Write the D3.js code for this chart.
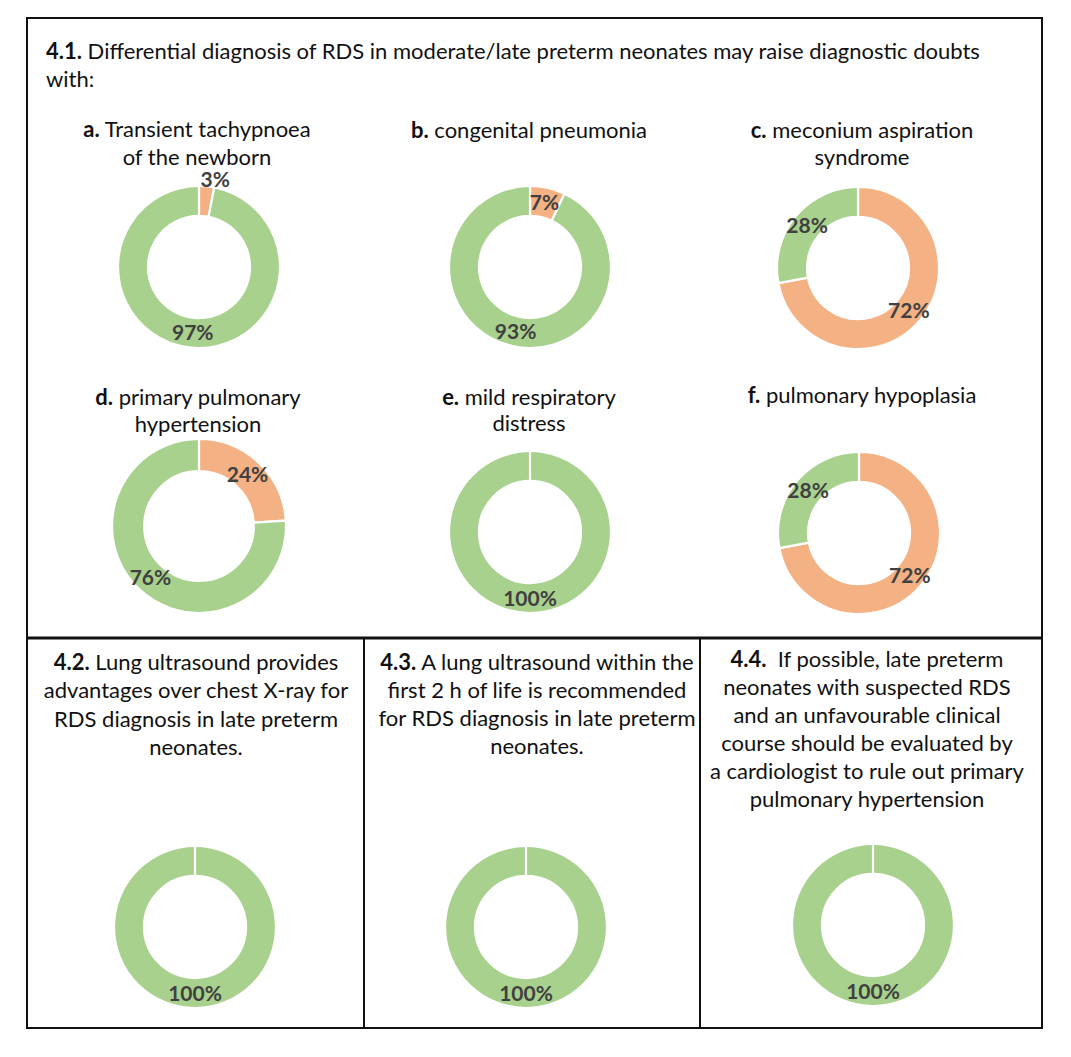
<!DOCTYPE html>
<html>
<head>
<meta charset="utf-8">
<script src="https://cdn.jsdelivr.net/npm/d3@7"></script>
<style>
  body { margin: 0; background: #fff; }
  text { font-family: Lato, "Open Sans", sans-serif; }
</style>
</head>
<body>
<div id="chart"></div>
<script>
// survey answers per statement, % of respondents
var panelKeys = ["a", "b", "c", "d", "e", "f", "4.2", "4.3", "4.4"];
var orangeValues = [3, 7, 72, 24, 0, 72, 0, 0, 0];
var greenValues = [97, 93, 28, 76, 100, 28, 100, 100, 100];

var mainPrefix = "4.1.";
var mainLines = ["Differential diagnosis of RDS in moderate/late preterm neonates may raise diagnostic doubts", "with:"];

var titlePrefixes = ["a.", "b.", "c.", "d.", "e.", "f.", "4.2.", "4.3.", "4.4."];
var titleLines = [
    ["Transient tachypnoea", "of the newborn"],
    ["congenital pneumonia"],
    ["meconium aspiration", "syndrome"],
    ["primary pulmonary", "hypertension"],
    ["mild respiratory", "distress"],
    ["pulmonary hypoplasia"],
    ["Lung ultrasound provides", "advantages over chest X-ray for", "RDS diagnosis in late preterm", "neonates."],
    ["A lung ultrasound within the", "first 2 h of life is recommended", "for RDS diagnosis in late preterm", "neonates."],
    ["\u00a0If possible, late preterm", "neonates with suspected RDS", "and an unfavourable clinical", "course should be evaluated by", "a cardiologist to rule out primary", "pulmonary hypertension"]
];

// where each panel sits on the page
var layout = [
    {cx: 199, cy: 267, r: 81, tx: 197, ty: 137, lh: 28},
    {cx: 530, cy: 267, r: 81, tx: 529, ty: 138, lh: 28},
    {cx: 858, cy: 268, r: 81, tx: 862, ty: 138, lh: 27},
    {cx: 199, cy: 526, r: 87, tx: 198, ty: 405, lh: 27},
    {cx: 530, cy: 532, r: 81, tx: 529, ty: 405, lh: 26},
    {cx: 859, cy: 533, r: 81, tx: 862, ty: 403, lh: 27},
    {cx: 195, cy: 927, r: 81, tx: 196, ty: 670, lh: 28.4},
    {cx: 526, cy: 927, r: 81, tx: 537, ty: 670, lh: 28},
    {cx: 873, cy: 925, r: 81, tx: 867, ty: 667, lh: 28}
];

var width = 1071,
    height = 1057;

var colors = ["#F4B183", "#A9D18E"];

var svg = d3.select("#chart").append("svg")
    .attr("width", width)
    .attr("height", height);

svg.append("rect")
    .attr("width", width)
    .attr("height", height)
    .attr("fill", "#fff");

// frame
svg.append("rect")
    .attr("x", 27).attr("y", 18)
    .attr("width", 1015).attr("height", 1010)
    .attr("fill", "none").attr("stroke", "#111").attr("stroke-width", 2);
svg.append("line")
    .attr("x1", 27).attr("x2", 1042).attr("y1", 638).attr("y2", 638)
    .attr("stroke", "#111").attr("stroke-width", 3);
[364, 700].forEach(function (x) {
    svg.append("line")
        .attr("x1", x).attr("x2", x).attr("y1", 638).attr("y2", 1028)
        .attr("stroke", "#111").attr("stroke-width", 2);
});

// main heading
var head = svg.append("text")
    .attr("x", 46).attr("y", 59)
    .attr("font-size", 22).attr("fill", "#111");
head.append("tspan").attr("font-weight", "bold").text(mainPrefix);
head.append("tspan").text(" " + mainLines[0]);
svg.append("text")
    .attr("x", 46).attr("y", 87)
    .attr("font-size", 22).attr("fill", "#111")
    .text(mainLines[1]);

var pie = d3.pie().sort(null).value(function (d) { return d.value; });

panelKeys.forEach(function (key, i) {
    var L = layout[i];

    // title
    var t = svg.append("text")
        .attr("text-anchor", "middle")
        .attr("font-size", 22)
        .attr("fill", "#111");
    titleLines[i].forEach(function (line, j) {
        var ts = t.append("tspan")
            .attr("x", L.tx)
            .attr("y", L.ty + j * L.lh);
        if (j == 0) {
            ts.append("tspan").attr("font-weight", "bold").text(titlePrefixes[i]);
            ts.append("tspan").text(" " + line);
        } else {
            ts.text(line);
        }
    });

    // donut
    var slices = pie([
        {name: "orange", value: orangeValues[i]},
        {name: "green", value: greenValues[i]}
    ]);
    slices.forEach(function (d, k) { d.color = colors[k]; });
    // empty slices only leave a white seam, draw them on top
    var drawOrder = slices.slice().sort(function (a, b) {
        return (a.data.value == 0) - (b.data.value == 0);
    });

    var arc = d3.arc()
        .outerRadius(L.r)
        .innerRadius(L.r * 0.63);
    var labelArc = d3.arc()
        .outerRadius(L.r * 0.815)
        .innerRadius(L.r * 0.815);
    var outerLabelArc = d3.arc()
        .outerRadius(L.r + 7)
        .innerRadius(L.r + 7);

    var g = svg.append("g")
        .attr("transform", "translate(" + L.cx + "," + L.cy + ")");

    g.selectAll("path")
        .data(drawOrder)
        .enter().append("path")
        .attr("d", arc)
        .attr("fill", function (d) { return d.color; })
        .attr("stroke", "#fff")
        .attr("stroke-width", 2.2)
        .attr("stroke-linejoin", "miter");

    g.selectAll("text")
        .data(slices.filter(function (d) { return d.data.value > 0; }))
        .enter().append("text")
        .attr("transform", function (d) {
            var p = d.data.value < 5 ? outerLabelArc.centroid(d) : labelArc.centroid(d);
            if (d.data.value < 5) p[0] += 8;
            return "translate(" + p + ")";
        })
        .attr("dy", "0.36em")
        .attr("text-anchor", "middle")
        .attr("font-size", 21)
        .attr("font-weight", "bold")
        .attr("fill", "#404040")
        .text(function (d) { return d.data.value + "%"; });
});
</script>
</body>
</html>
